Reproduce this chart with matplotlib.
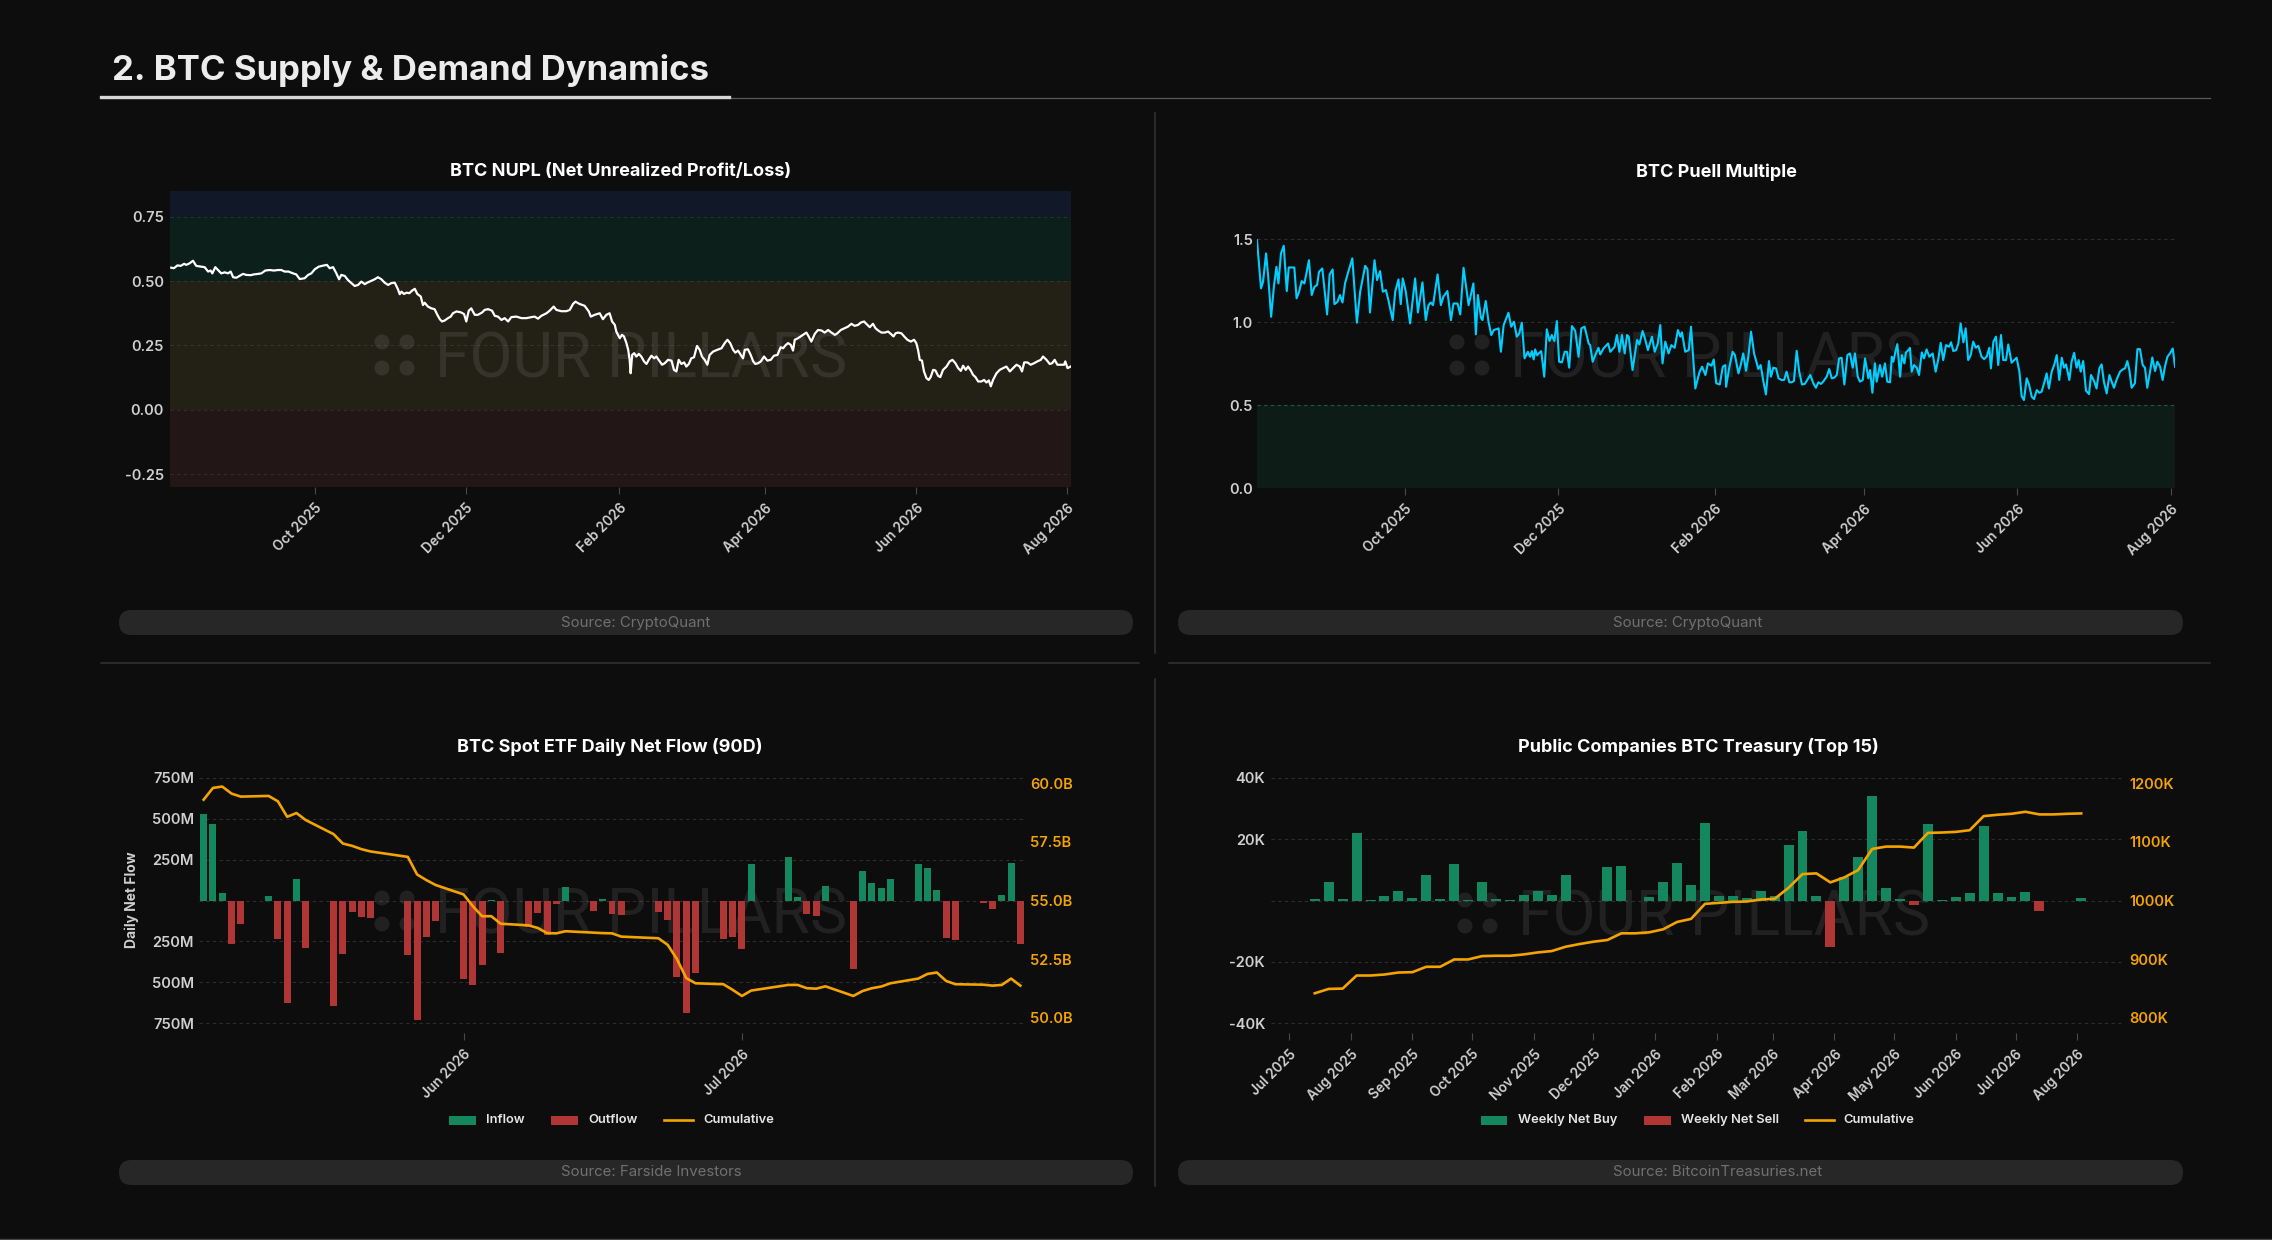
import datetime as dt
import numpy as np
import matplotlib
matplotlib.use("Agg")
import matplotlib.pyplot as plt
import matplotlib.dates as mdates
from matplotlib.patches import FancyBboxPatch, Rectangle, Circle
from matplotlib.lines import Line2D
from matplotlib.transforms import Affine2D

plt.rcParams['font.family'] = ['Inter', 'DejaVu Sans']

# ---------------- DATA ----------------
header_title = "2. BTC Supply & Demand Dynamics"

# NUPL: day offset from 2025-08-03 12:00, value
nupl_day = [0.5, 1.6, 3.0, 4.3, 5.7, 6.6, 7.9, 9.3, 10.6, 12.7, 14.0, 15.4, 16.4, 17.1, 18.3, 19.4, 20.7, 22.1, 23.4, 24.5,
            25.5, 26.8, 28.1, 29.5, 30.8, 32.6, 33.9, 35.6, 36.9, 38.5, 40.3, 42.0, 43.6, 45.0, 46.3, 47.9, 49.7, 51.0, 52.4, 54.4,
            55.8, 57.1, 58.5, 60.1, 61.8, 63.4, 64.5, 65.9, 67.2, 68.3, 69.2, 70.6, 71.9, 73.3, 74.6, 76.0, 77.3, 78.7, 79.7, 81.3,
            82.7, 84.0, 85.4, 86.7, 88.1, 89.4, 90.8, 92.1, 92.8, 93.5, 94.5, 95.6, 96.7, 97.8, 98.9, 99.9, 101.3, 102.2, 102.9, 104.2,
            105.6, 106.9, 108.0, 109.0, 109.9, 111.0, 112.3, 113.4, 114.3, 115.7, 117.4, 118.8, 119.7, 120.7, 121.7, 123.1, 124.4, 126.1, 127.1, 128.5,
            130.1, 131.2, 132.5, 133.9, 135.2, 136.6, 137.9, 139.9, 142.0, 144.0, 146.0, 147.3, 148.7, 150.0, 152.1, 153.4, 155.0, 156.1, 158.1, 160.1,
            161.5, 162.8, 163.8, 165.5, 167.5, 169.2, 170.0, 171.6, 173.6, 174.9, 176.3, 177.6, 178.6, 179.7, 180.3, 181.7, 182.6,
            183.4, 184.4, 185.1, 185.7, 186.1, 186.7, 187.5, 188.4, 189.4, 190.4, 191.5, 192.5, 193.4, 194.5, 195.6, 196.5, 197.4, 198.8, 199.9, 201.2,
            202.6, 203.6, 204.6, 205.5, 206.6, 207.7, 208.6, 209.6, 210.6, 211.7, 212.9, 214.0, 214.9, 216.0, 217.1, 218.0, 219.4, 221.1, 222.8, 224.1,
            225.2, 226.3, 227.5, 228.4, 229.5, 230.6, 231.5, 232.2, 233.5, 234.6, 235.6, 236.5, 237.6, 238.7, 240.0, 241.3, 242.7, 244.0, 245.4, 246.7,
            247.7, 248.8, 249.7, 250.8, 251.7, 252.4, 253.7, 254.8, 255.8, 257.1, 258.0, 259.1, 260.5, 261.8, 263.2, 264.5, 265.9, 267.2, 268.6, 269.6,
            271.0, 272.6, 273.9, 275.3, 276.6, 278.0, 279.1, 280.4, 281.3, 282.7, 284.0, 285.0, 286.1, 287.4, 288.8, 290.1, 291.2, 292.3, 293.1, 294.1,
            295.5, 296.6, 297.9, 299.3, 300.6, 301.5, 302.2, 302.9, 303.8, 304.6, 305.6, 306.5, 307.3, 308.3, 309.2, 310.3, 311.2, 312.3, 313.7, 315.0,
            316.1, 317.3, 318.4, 319.5, 320.4, 321.5, 322.4, 323.5, 324.4, 325.4, 326.5, 327.8, 328.9, 329.8, 330.8, 331.6, 332.5, 333.9, 335.2, 336.6,
            337.9, 339.3, 340.6, 342.0, 343.3, 344.2, 345.1, 346.4, 347.7, 349.1, 350.4, 351.8, 352.7, 354.1, 355.4, 356.4, 357.4, 358.5, 359.9, 361.2,
            361.7, 362.6, 363.5, 364.4]
nupl_val = [0.552, 0.550, 0.561, 0.559, 0.567, 0.563, 0.569, 0.579, 0.559, 0.556, 0.554, 0.537, 0.541, 0.530, 0.554, 0.543, 0.530, 0.534, 0.530, 0.537,
            0.515, 0.513, 0.520, 0.528, 0.524, 0.523, 0.526, 0.528, 0.530, 0.541, 0.543, 0.541, 0.543, 0.543, 0.537, 0.537, 0.530, 0.526, 0.508, 0.511,
            0.524, 0.530, 0.546, 0.556, 0.560, 0.563, 0.550, 0.554, 0.530, 0.507, 0.524, 0.520, 0.504, 0.492, 0.481, 0.485, 0.498, 0.488, 0.494, 0.501,
            0.507, 0.515, 0.507, 0.494, 0.485, 0.492, 0.494, 0.468, 0.449, 0.459, 0.450, 0.455, 0.453, 0.463, 0.470, 0.450, 0.440, 0.407, 0.416, 0.401,
            0.394, 0.391, 0.369, 0.352, 0.343, 0.347, 0.356, 0.362, 0.375, 0.382, 0.379, 0.372, 0.343, 0.385, 0.394, 0.369, 0.369, 0.378, 0.388, 0.391,
            0.385, 0.365, 0.362, 0.349, 0.356, 0.343, 0.360, 0.362, 0.356, 0.356, 0.360, 0.362, 0.354, 0.365, 0.375, 0.385, 0.401, 0.388, 0.383, 0.383,
            0.388, 0.411, 0.420, 0.411, 0.404, 0.382, 0.362, 0.369, 0.375, 0.352, 0.369, 0.375, 0.343, 0.330, 0.304, 0.278, 0.291,
            0.285, 0.259, 0.233, 0.194, 0.142, 0.213, 0.220, 0.207, 0.217, 0.207, 0.188, 0.178, 0.194, 0.210, 0.200, 0.207, 0.194, 0.175, 0.181, 0.194,
            0.191, 0.155, 0.149, 0.194, 0.178, 0.184, 0.168, 0.178, 0.200, 0.204, 0.248, 0.233, 0.207, 0.194, 0.175, 0.213, 0.226, 0.233, 0.239, 0.259,
            0.272, 0.259, 0.233, 0.222, 0.230, 0.213, 0.200, 0.233, 0.235, 0.213, 0.188, 0.178, 0.181, 0.188, 0.207, 0.191, 0.194, 0.210, 0.213, 0.243,
            0.239, 0.252, 0.259, 0.252, 0.230, 0.272, 0.278, 0.285, 0.291, 0.300, 0.285, 0.265, 0.295, 0.310, 0.308, 0.300, 0.310, 0.300, 0.291, 0.297,
            0.310, 0.317, 0.323, 0.334, 0.326, 0.330, 0.339, 0.343, 0.334, 0.321, 0.334, 0.317, 0.308, 0.300, 0.300, 0.304, 0.295, 0.285, 0.297, 0.300,
            0.297, 0.285, 0.272, 0.265, 0.272, 0.259, 0.233, 0.194, 0.191, 0.149, 0.123, 0.116, 0.127, 0.155, 0.153, 0.132, 0.127, 0.155, 0.168, 0.188,
            0.194, 0.181, 0.162, 0.151, 0.171, 0.155, 0.168, 0.153, 0.136, 0.127, 0.110, 0.110, 0.116, 0.106, 0.114, 0.091, 0.116, 0.142, 0.155, 0.162,
            0.168, 0.149, 0.162, 0.175, 0.168, 0.149, 0.184, 0.184, 0.175, 0.181, 0.188, 0.194, 0.207, 0.194, 0.178, 0.181, 0.194, 0.175, 0.175, 0.175,
            0.188, 0.162, 0.166, 0.171]
nupl_yticks = [-0.25, 0.0, 0.25, 0.5, 0.75]
nupl_ylabels = ["-0.25", "0.00", "0.25", "0.50", "0.75"]

# Puell multiple: day offset from 2025-08-03 12:00, value
puell_day = [0.0, 1.6, 2.4, 3.6, 4.5, 5.6, 6.7, 7.7, 8.5, 9.5, 10.6, 11.8, 12.6, 14.8, 15.7, 16.7, 17.7, 18.8, 20.6, 21.7,
             22.8, 23.8, 24.6, 25.9, 27.8, 28.8, 30.0, 30.7, 31.9, 32.9, 33.9, 34.9, 36.2, 37.8, 39.6, 40.9, 42.9, 43.8, 44.8, 46.6,
             47.6, 48.8, 49.9, 51.1, 52.1, 53.8, 54.8, 56.1, 57.0, 57.8, 59.0, 60.7, 62.7, 63.8, 65.6, 66.9, 68.0, 68.9, 69.8, 71.6,
             72.9, 73.9, 75.5, 76.9, 77.9, 79.5, 80.6, 81.9, 83.9, 85.8, 86.8, 87.6, 88.8, 89.4, 90.7, 91.8, 92.9, 93.9, 95.8, 96.7,
             97.8, 99.7, 100.8, 101.9, 103.0, 104.0, 105.0, 106.1, 107.4, 108.3, 109.0, 109.7, 110.3, 111.0, 112.7, 113.9, 114.9, 116.0, 116.9, 117.9,
             118.9, 119.8, 120.9, 122.0, 122.9, 123.8, 124.9, 126.2, 127.5, 128.6, 129.9, 131.5, 132.1, 133.1, 134.4, 135.4, 136.1, 137.4, 139.2, 140.1,
             141.8, 142.7, 143.7, 144.7, 145.8, 146.7, 147.4, 148.9, 150.7, 151.6, 152.9, 154.0, 155.0, 156.6, 157.7, 158.9, 159.9, 160.8, 161.9, 163.2,
             164.3, 165.6, 166.9, 167.9, 168.5, 169.8, 171.2, 172.1, 173.8, 175.5, 176.5, 177.8, 178.8, 180.2, 181.1, 182.1, 183.5, 184.7, 185.7,
             186.0, 187.2, 188.6, 189.5, 190.9, 191.8, 192.8, 193.9, 194.8, 195.9, 197.1, 198.8, 199.7, 200.8, 201.8, 203.0, 203.8, 204.7, 205.8, 206.8,
             208.0, 209.0, 210.0, 211.1, 212.0, 212.9, 214.0, 215.0, 216.1, 217.2, 218.4, 219.4, 220.6, 221.6, 222.6, 223.6, 224.5, 225.9, 226.9, 227.9,
             228.9, 229.9, 230.8, 231.8, 232.9, 234.1, 235.1, 236.2, 237.1, 238.2, 239.1, 240.2, 241.1, 242.4, 243.1, 244.0, 245.0, 245.7, 247.0, 247.9,
             249.0, 249.9, 251.0, 251.7, 252.3, 253.0, 253.9, 255.0, 255.7, 256.7, 257.3, 258.3, 258.9, 259.6, 260.5, 261.6, 262.5, 263.6, 264.5, 265.5,
             266.6, 267.9, 269.1, 270.2, 271.1, 272.1, 273.2, 274.4, 275.2, 276.1, 277.2, 278.1, 279.0, 280.1, 281.0, 282.0, 283.0, 284.0, 285.0, 286.0,
             287.3, 288.3, 289.3, 290.4, 291.0, 292.0, 293.0, 293.9, 295.0, 295.9, 297.0, 297.9, 299.2, 300.3, 301.2, 302.3, 303.2, 304.1, 305.2, 306.1,
             307.2, 308.1, 309.2, 310.2, 311.1, 312.2, 313.1, 314.0, 315.1, 316.1, 317.1, 318.1, 319.1, 320.0, 320.8, 322.1, 323.0, 324.0, 325.0, 325.8,
             326.6, 327.6, 328.7, 329.9, 330.7, 331.9, 332.9, 334.0, 334.9, 335.8, 336.9, 338.0, 338.9, 339.8, 340.9, 342.2, 343.3, 344.2, 345.1, 345.9,
             346.8, 348.1, 349.1, 350.1, 351.2, 352.1, 353.0, 354.1, 355.0, 356.1, 357.0, 358.1, 359.1, 360.0, 361.0, 362.0, 363.1, 364.0]
puell_val = [1.494, 1.203, 1.243, 1.414, 1.263, 1.032, 1.213, 1.333, 1.233, 1.414, 1.460, 1.187, 1.329, 1.329, 1.143, 1.183, 1.247, 1.233, 1.373, 1.163,
             1.213, 1.223, 1.303, 1.323, 1.046, 1.287, 1.317, 1.108, 1.122, 1.163, 1.118, 1.233, 1.303, 1.384, 0.996, 1.183, 1.339, 1.319, 1.058, 1.373,
             1.253, 1.307, 1.183, 1.193, 1.133, 1.012, 1.183, 1.257, 1.108, 1.263, 1.183, 0.992, 1.263, 1.058, 1.239, 1.012, 1.102, 1.118, 1.102, 1.287,
             1.102, 1.153, 1.187, 1.012, 1.112, 1.112, 1.046, 1.327, 1.102, 1.233, 0.926, 1.163, 1.026, 1.012, 1.127, 1.002, 0.922, 0.952, 0.962, 0.821,
             0.982, 1.056, 0.972, 1.002, 0.912, 0.932, 0.996, 0.781, 0.821, 0.791, 0.825, 0.775, 0.835, 0.801, 0.825, 0.671, 0.956, 0.886, 0.922, 0.886,
             1.006, 0.761, 0.757, 0.821, 0.821, 0.725, 0.976, 0.946, 0.791, 0.962, 0.972, 0.871, 0.861, 0.761, 0.811, 0.845, 0.805, 0.841, 0.871, 0.821,
             0.851, 0.922, 0.821, 0.922, 0.811, 0.922, 0.912, 0.711, 0.892, 0.865, 0.946, 0.892, 0.831, 0.912, 0.821, 0.871, 0.982, 0.751, 0.882, 0.811,
             0.861, 0.845, 0.952, 0.912, 0.938, 0.821, 0.831, 0.972, 0.600, 0.701, 0.731, 0.681, 0.751, 0.737, 0.775, 0.631, 0.624, 0.731, 0.741,
             0.610, 0.721, 0.821, 0.801, 0.691, 0.741, 0.811, 0.707, 0.791, 0.942, 0.811, 0.717, 0.741, 0.641, 0.564, 0.765, 0.671, 0.725, 0.721, 0.661,
             0.651, 0.651, 0.701, 0.637, 0.637, 0.645, 0.827, 0.701, 0.624, 0.627, 0.657, 0.681, 0.631, 0.604, 0.637, 0.627, 0.641, 0.671, 0.717, 0.661,
             0.665, 0.681, 0.781, 0.785, 0.624, 0.801, 0.811, 0.725, 0.811, 0.671, 0.641, 0.651, 0.781, 0.661, 0.711, 0.574, 0.751, 0.641, 0.741, 0.671,
             0.751, 0.641, 0.637, 0.791, 0.761, 0.811, 0.867, 0.671, 0.801, 0.751, 0.817, 0.831, 0.845, 0.701, 0.741, 0.725, 0.681, 0.817, 0.781, 0.835,
             0.791, 0.811, 0.701, 0.781, 0.875, 0.771, 0.861, 0.851, 0.878, 0.825, 0.831, 0.871, 0.992, 0.878, 0.962, 0.771, 0.801, 0.882, 0.845, 0.857,
             0.791, 0.777, 0.791, 0.845, 0.721, 0.882, 0.912, 0.741, 0.922, 0.771, 0.771, 0.865, 0.755, 0.771, 0.785, 0.701, 0.554, 0.530, 0.661, 0.624,
             0.550, 0.536, 0.590, 0.574, 0.580, 0.637, 0.691, 0.600, 0.701, 0.741, 0.801, 0.651, 0.785, 0.725, 0.745, 0.651, 0.761, 0.815, 0.725, 0.771,
             0.701, 0.765, 0.586, 0.566, 0.681, 0.645, 0.600, 0.721, 0.745, 0.641, 0.570, 0.681, 0.641, 0.604, 0.655, 0.701, 0.715, 0.721, 0.765, 0.711,
             0.604, 0.631, 0.837, 0.837, 0.741, 0.725, 0.604, 0.701, 0.787, 0.705, 0.761, 0.731, 0.651, 0.731, 0.791, 0.811, 0.841, 0.731]
puell_yticks = [0.0, 0.5, 1.0, 1.5]
puell_ylabels = ["0.0", "0.5", "1.0", "1.5"]

year_ticks = ["2025-10-01", "2025-12-01", "2026-02-01", "2026-04-01", "2026-06-01", "2026-08-01"]
year_labels = ["Oct 2025", "Dec 2025", "Feb 2026", "Apr 2026", "Jun 2026", "Aug 2026"]

# Spot ETF: trading-day offset from 2026-05-04, daily net flow ($M), cumulative ($B)
etf_day = [0, 1, 2, 3, 4, 7, 8, 9, 10, 11, 14, 15, 16, 17, 18, 22, 23, 24, 25,
           28, 29, 30, 31, 32, 35, 36, 37, 38, 39, 42, 43, 44, 45, 49, 50, 51, 52, 53,
           56, 57, 58, 59, 63, 64, 65, 66, 67, 70, 71, 72, 73, 74, 77, 78, 79, 80, 81,
           84, 85, 86, 87, 88]
etf_flow = [526, 465, 45, -268, -144, 26, -234, -628, 130, -289, -644, -329, -71, -100, -104, -333, -730, -222, -124,
            -482, -516, -394, 2, -323, -161, -79, -211, -24, 85, -63, 8, -83, -89, -69, -116, -468, -689, -441,
            -234, -222, -295, 222, 264, 20, -85, -96, 89, -421, 179, 106, 77, 130, 226, 201, 67, -226, -240,
            -14, -51, 33, 232, -264]
etf_cum = [59.30, 59.80, 59.86, 59.56, 59.43, 59.46, 59.23, 58.57, 58.73, 58.43, 57.83, 57.43, 57.33, 57.19, 57.09,
           56.86, 56.11, 55.87, 55.66, 55.26, 54.76, 54.33, 54.33, 54.01, 53.94, 53.83, 53.61, 53.60, 53.69,
           53.63, 53.61, 53.60, 53.46, 53.39, 53.11, 52.50, 51.69, 51.47, 51.43, 51.19, 50.93, 51.16,
           51.40, 51.40, 51.26, 51.24, 51.34, 50.93, 51.14, 51.26, 51.33, 51.47, 51.67, 51.87, 51.93, 51.57, 51.43,
           51.41, 51.37, 51.40, 51.67, 51.37]
etf_yticks = [-750, -500, -250, 0, 250, 500, 750]
etf_ylabels = ["750M", "500M", "250M", "", "250M", "500M", "750M"]
etf_y2ticks = [50.0, 52.5, 55.0, 57.5, 60.0]
etf_y2labels = ["50.0B", "52.5B", "55.0B", "57.5B", "60.0B"]
etf_xticks = ["2026-06-01", "2026-07-01"]
etf_xlabels = ["Jun 2026", "Jul 2026"]

# Treasury: weekly (from 2025-07-14) net change (K BTC) and cumulative holdings (K BTC)
tr_net = [0.65, 6.1, 0.65, 22.0, 0.1, 1.6, 3.0, 0.9, 8.4, 0.4, 12.0, 0.1, 5.9, 0.4, 0.1, 1.7, 3.0, 1.7, 8.2, 0.0,
          0.0, 11.0, 11.2, 0.0, 1.1, 5.9, 12.2, 5.0, 25.1, 1.5, 1.5, 0.8, 3.2, 1.6, 18.2, 22.5, 1.6, -15.1, 7.6, 14.1,
          34.0, 4.0, 0.4, -1.6, 24.9, 0.3, 1.0, 2.4, 24.2, 2.6, 1.2, 2.7, -3.3, 0.0, 0.0, 0.8]
tr_cum = [841.7, 849.1, 849.7, 872.0, 872.0, 873.7, 877.1, 877.7, 886.9, 886.9, 899.4, 899.4, 905.1, 905.7, 905.7,
          908.0, 911.4, 913.7, 921.1, 925.7, 929.7, 932.6, 944.0, 944.0, 945.7, 950.9, 963.4, 968.6, 994.3, 996.0,
          997.7, 998.3, 1001.7, 1002.9, 1021.7, 1045.1, 1046.3, 1030.9, 1039.4, 1052.0, 1088.0, 1092.0, 1092.0, 1090.3,
          1115.4, 1116.0, 1117.1, 1120.0, 1144.0, 1146.3, 1148.0, 1151.4, 1146.9, 1146.9, 1148.0, 1148.6]
tr_yticks = [-40, -20, 0, 20, 40]
tr_ylabels = ["-40K", "-20K", "", "20K", "40K"]
tr_y2ticks = [800, 900, 1000, 1100, 1200]
tr_y2labels = ["800K", "900K", "1000K", "1100K", "1200K"]
tr_xticks = ["2025-07-01", "2025-08-01", "2025-09-01", "2025-10-01", "2025-11-01", "2025-12-01", "2026-01-01",
             "2026-02-01", "2026-03-01", "2026-04-01", "2026-05-01", "2026-06-01", "2026-07-01", "2026-08-01"]
tr_xlabels = ["Jul 2025", "Aug 2025", "Sep 2025", "Oct 2025", "Nov 2025", "Dec 2025", "Jan 2026",
              "Feb 2026", "Mar 2026", "Apr 2026", "May 2026", "Jun 2026", "Jul 2026", "Aug 2026"]

# ---------------- STYLE ----------------
BG = "#0d0d0d"
GREEN = "#14875e"
RED = "#b03636"
ORANGE = "#f5a300"
CYAN = "#00cfff"
TICK = "#cfcfcf"
GRID = "#2e2e2e"
YTS = 10.5   # y tick label size
XTS = 9.8    # x tick label size
TTS = 13     # chart title size
LGS = 9.3    # legend size

W, H = 2272, 1240
fig = plt.figure(figsize=(W / 100, H / 100), dpi=100, facecolor=BG)
T = Affine2D().scale(1, -1).translate(0, H).scale(1 / 100) + fig.dpi_scale_trans


def add_ax(x0, y0, x1, y1):
    a = fig.add_axes([x0 / W, 1 - y1 / H, (x1 - x0) / W, (y1 - y0) / H])
    a.set_facecolor("none")
    for s in a.spines.values():
        s.set_visible(False)
    return a


def d2n(s):
    return mdates.date2num(dt.datetime.strptime(s, "%Y-%m-%d"))


def style_x(a, ticks, labels):
    a.set_xticks([d2n(t) for t in ticks])
    a.set_xticklabels(labels, rotation=45, ha="right", va="top", rotation_mode="anchor",
                      fontsize=XTS, fontweight="semibold", color=TICK)
    a.tick_params(axis="x", length=5, width=0.8, color="#4a4a4a", pad=5)


def style_y(a, ticks, labels, color=TICK, pad=4.3):
    a.set_yticks(ticks)
    a.set_yticklabels(labels, fontsize=YTS, fontweight="semibold", color=color)
    a.tick_params(axis="y", length=0, pad=pad)


def watermark(a, x_text, baseline, dy1, dy2):
    for dx in (-53, -28):
        for dy in (dy1, dy2):
            a.add_artist(Circle((x_text + dx, dy), 7.5, transform=T, fc="white", ec="none",
                                alpha=0.085, zorder=0.5))
    a.text(x_text, baseline, "FOUR PILLARS", transform=T, family="Roboto", fontsize=45,
           color="white", alpha=0.085, ha="left", va="baseline", zorder=0.5)


def ftext(x, y, s, **kw):
    fig.text(x, y, s, transform=T, **kw)


# ---------------- HEADER & FRAME ----------------
ftext(112, 80, header_title, fontsize=25, fontweight="bold", color="#ececec", ha="left", va="baseline")
fig.add_artist(Line2D([101, 2210], [98, 98], transform=T, color="#5a5a5a", lw=0.9))
fig.add_artist(Line2D([101, 729], [97, 97], transform=T, color="#d8d8d8", lw=2.4))
div = "#333333"
fig.add_artist(Line2D([1155, 1155], [113, 653], transform=T, color=div, lw=1.1))
fig.add_artist(Line2D([1155, 1155], [679, 1186], transform=T, color=div, lw=1.1))
fig.add_artist(Line2D([101, 1139], [663, 663], transform=T, color=div, lw=1.1))
fig.add_artist(Line2D([1169, 2210], [663, 663], transform=T, color=div, lw=1.1))
fig.add_artist(Line2D([0, W], [1239.3, 1239.3], transform=T, color="#444444", lw=1.0))

for (x0, x1, y0, tx0, src) in [(119, 1133, 610, 561, "Source: CryptoQuant"),
                               (1178, 2183, 610, 1613, "Source: CryptoQuant"),
                               (119, 1133, 1160, 561, "Source: Farside Investors"),
                               (1178, 2183, 1160, 1613, "Source: BitcoinTreasuries.net")]:
    fig.add_artist(FancyBboxPatch((x0, y0), x1 - x0, 25, boxstyle="round,pad=0,rounding_size=12.5",
                                  transform=T, fc="#272727", ec="none"))
    ftext(tx0, y0 + 12.5, src, fontsize=10.8, color="#707070", ha="left", va="center")

# ---------------- NUPL ----------------
base = mdates.date2num(dt.datetime(2025, 8, 3, 12))
ax = add_ax(170, 191, 1071, 487)
ax.set_ylim(-0.3, 0.85)
ax.set_xlim(base, base + 364)
ax.axhspan(0.75, 0.85, color="#111827", zorder=0.1, lw=0)
ax.axhspan(0.5, 0.75, color="#0d1f1a", zorder=0.1, lw=0)
ax.axhspan(0.0, 0.5, color="#232016", zorder=0.1, lw=0)
ax.axhspan(-0.3, 0.0, color="#221616", zorder=0.1, lw=0)
for y in nupl_yticks:
    ax.axhline(y, color=(1, 1, 1, 0.09), lw=0.8, ls=(0, (3, 3)), zorder=0.3)
watermark(ax, 435, 378, 342, 368)
ax.plot(base + np.array(nupl_day), nupl_val, color="white", lw=1.6, zorder=2)
style_y(ax, nupl_yticks, nupl_ylabels)
style_x(ax, year_ticks, year_labels)
ftext(621, 172, "BTC NUPL (Net Unrealized Profit/Loss)", fontsize=TTS, fontweight="bold",
      color="white", ha="center", va="center")

# ---------------- PUELL ----------------
ax = add_ax(1257, 191, 2175, 488)
ax.set_ylim(0, 1.79)
ax.set_xlim(base, base + 364)
ax.axhspan(0.0, 0.5, color="#0e1c18", zorder=0.1, lw=0)
for y in puell_yticks:
    c = "#1d5a44" if y == 0.5 else GRID
    ax.axhline(y, color=c, lw=0.8, ls=(0, (3, 3)), zorder=0.3)
watermark(ax, 1510, 378, 342, 368)
ax.plot(base + np.array(puell_day), puell_val, color=CYAN, lw=1.5, zorder=2)
style_y(ax, puell_yticks, puell_ylabels, pad=3)
style_x(ax, year_ticks, year_labels)
ftext(1716, 172, "BTC Puell Multiple", fontsize=TTS, fontweight="bold", color="white",
      ha="center", va="center")

# ---------------- SPOT ETF ----------------
ebase = mdates.date2num(dt.datetime(2026, 5, 4))
ax = add_ax(199, 772, 1025, 1033)
ax.set_ylim(-809, 785)
ax.set_xlim(ebase - 0.5, ebase + 88.5)
for y in etf_yticks:
    ax.axhline(y, color=GRID, lw=0.8, ls=(0, (3, 3)), zorder=0.3)
watermark(ax, 435, 933, 898, 924)
ex = ebase + np.array(etf_day)
ax.bar(ex, etf_flow, width=0.75, color=[GREEN if v >= 0 else RED for v in etf_flow], zorder=2, lw=0)
style_y(ax, etf_yticks, etf_ylabels, pad=3.6)
style_x(ax, etf_xticks, etf_xlabels)
ax2 = ax.twinx()
for s in ax2.spines.values():
    s.set_visible(False)
ax2.set_ylim(49.35, 60.48)
ax2.plot(ex, etf_cum, color=ORANGE, lw=1.9, zorder=3)
style_y(ax2, etf_y2ticks, etf_y2labels, color=ORANGE, pad=3.6)
ax.set_xlim(ebase - 0.5, ebase + 88.5)
ftext(610, 747, "BTC Spot ETF Daily Net Flow (90D)", fontsize=TTS, fontweight="bold", color="white",
      ha="center", va="center")
ftext(132, 900, "Daily Net Flow", fontsize=10, fontweight="bold", color="#cfcfcf", rotation=90,
      ha="center", va="center")
# legend
fig.add_artist(Rectangle((449, 1115.5), 27, 9, transform=T, fc=GREEN, ec="none"))
ftext(486, 1120, "Inflow", fontsize=LGS, fontweight="semibold", color="#e6e6e6", ha="left", va="center")
fig.add_artist(Rectangle((551, 1115.5), 27, 9, transform=T, fc=RED, ec="none"))
ftext(588.5, 1120, "Outflow", fontsize=LGS, fontweight="semibold", color="#e6e6e6", ha="left", va="center")
fig.add_artist(Line2D([664, 693], [1120, 1120], transform=T, color=ORANGE, lw=1.9))
ftext(703, 1120, "Cumulative", fontsize=LGS, fontweight="semibold", color="#e6e6e6", ha="left", va="center")

# ---------------- TREASURY ----------------
tbase = mdates.date2num(dt.datetime(2025, 7, 14))
ax = add_ax(1271, 772, 2123, 1033)
ax.set_ylim(-43.16, 41.86)
for y in tr_yticks:
    ax.axhline(y, color=GRID, lw=0.8, ls=(0, (3, 3)), zorder=0.3)
watermark(ax, 1518, 935, 900, 926)
tx = tbase + 7 * np.arange(len(tr_net))
ax.bar(tx, tr_net, width=5, color=[GREEN if v >= 0 else RED for v in tr_net], zorder=2, lw=0)
style_y(ax, tr_yticks, tr_ylabels, pad=4.3)
style_x(ax, tr_xticks, tr_xlabels)
ax2 = ax.twinx()
for s in ax2.spines.values():
    s.set_visible(False)
ax2.set_ylim(773.9, 1219.3)
ax2.plot(tx, tr_cum, color=ORANGE, lw=1.9, zorder=3)
style_y(ax2, tr_y2ticks, tr_y2labels, color=ORANGE, pad=4.3)
ax.set_xlim(d2n("2025-06-22"), d2n("2026-08-24"))
ftext(1698, 747, "Public Companies BTC Treasury (Top 15)", fontsize=TTS, fontweight="bold", color="white",
      ha="center", va="center")
fig.add_artist(Rectangle((1481, 1115.5), 26, 9, transform=T, fc=GREEN, ec="none"))
ftext(1518, 1120, "Weekly Net Buy", fontsize=LGS, fontweight="semibold", color="#e6e6e6", ha="left", va="center")
fig.add_artist(Rectangle((1644, 1115.5), 26.6, 9, transform=T, fc=RED, ec="none"))
ftext(1681, 1120, "Weekly Net Sell", fontsize=LGS, fontweight="semibold", color="#e6e6e6", ha="left", va="center")
fig.add_artist(Line2D([1805, 1834], [1120, 1120], transform=T, color=ORANGE, lw=1.9))
ftext(1843.5, 1120, "Cumulative", fontsize=LGS, fontweight="semibold", color="#e6e6e6", ha="left", va="center")

fig.savefig("out.png", dpi=100, facecolor=BG)
